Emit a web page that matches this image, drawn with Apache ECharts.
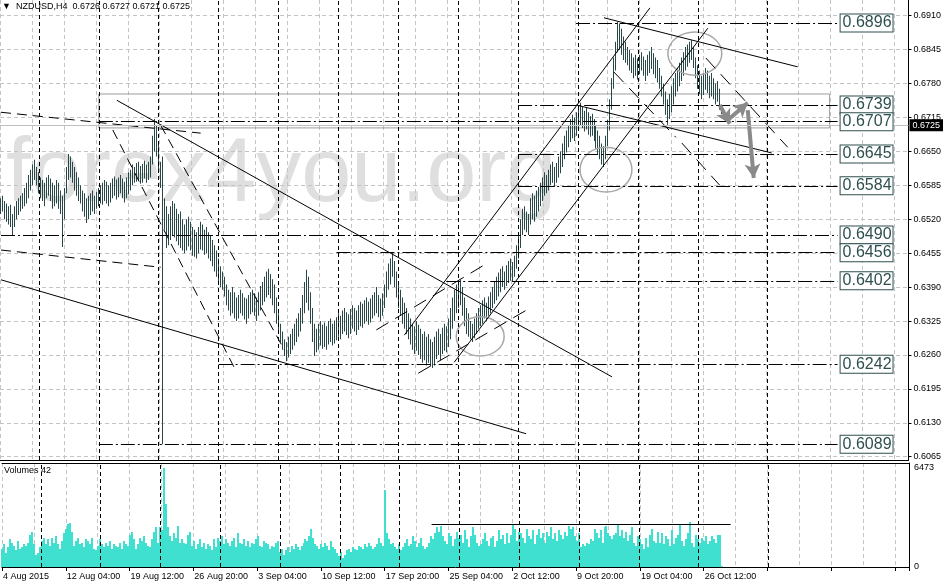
<!DOCTYPE html>
<html lang="en">
<head>
<meta charset="UTF-8">
<title>NZDUSD H4</title>
<style>
  html, body { margin: 0; padding: 0; background: #fff; }
  #chart { width: 944px; height: 583px; }
</style>
</head>
<body>
<div id="chart"></div>
<script src="https://cdn.jsdelivr.net/npm/echarts@6.0.0/dist/echarts.min.js"></script>
<script>
// H4 bars, high / low in pips (0.0001)
const highs = [
  6560,6565,6555,6550,6545,6548,6530,6545,6555,6560, 6565,6570,6580,6590,6605,6615,6625,6634,6620,6610,
  6600,6595,6590,6600,6605,6598,6590,6585,6595,6590, 6575,6565,6580,6620,6645,6640,6630,6620,6610,6600,
  6585,6575,6570,6560,6565,6570,6575,6565,6572,6580, 6585,6590,6595,6592,6585,6590,6598,6602,6596,6600,
  6605,6598,6592,6600,6610,6615,6625,6620,6628,6630, 6622,6626,6632,6625,6630,6640,6680,6712,6700,6665,
  6630,6640,6560,6545,6530,6545,6555,6550,6540,6530, 6535,6520,6510,6520,6525,6515,6505,6500,6495,6505,
  6515,6510,6500,6505,6495,6490,6480,6470,6460,6445, 6430,6420,6410,6395,6385,6380,6390,6380,6370,6375,
  6385,6378,6370,6368,6375,6380,6385,6378,6370,6380, 6392,6400,6410,6420,6425,6415,6405,6395,6370,6340,
  6320,6305,6290,6285,6295,6300,6310,6320,6330,6340, 6350,6375,6400,6423,6410,6380,6350,6320,6310,6320,
  6325,6318,6322,6315,6325,6330,6320,6326,6332,6340, 6335,6345,6350,6342,6338,6348,6355,6350,6345,6355,
  6362,6358,6365,6370,6362,6368,6375,6380,6390,6375, 6368,6378,6395,6420,6435,6445,6457,6440,6420,6400,
  6385,6370,6360,6350,6340,6330,6320,6315,6325,6318, 6310,6300,6305,6295,6300,6290,6285,6295,6305,6310,
  6300,6312,6320,6315,6330,6350,6370,6385,6395,6400, 6404,6390,6370,6350,6340,6325,6320,6330,6340,6350,
  6355,6365,6370,6360,6372,6380,6390,6400,6410,6418, 6425,6430,6420,6432,6440,6445,6438,6450,6470,6495,
  6520,6540,6545,6535,6530,6560,6570,6565,6575,6582, 6590,6600,6610,6605,6615,6625,6630,6620,6628,6640,
  6650,6665,6680,6690,6700,6712,6720,6715,6725,6732, 6743,6735,6728,6735,6725,6718,6722,6712,6700,6690,
  6680,6665,6660,6680,6710,6750,6790,6830,6860,6898, 6895,6885,6870,6860,6850,6845,6838,6830,6835,6828,
  6835,6840,6832,6825,6835,6842,6850,6838,6830,6825, 6810,6795,6780,6765,6750,6760,6775,6790,6800,6810,
  6820,6830,6840,6850,6855,6860,6863,6850,6830,6815, 6805,6795,6800,6810,6805,6795,6800,6790,6780,6785,
  6770,6727
];
const lows = [
  6530,6535,6520,6515,6510,6505,6490,6505,6520,6528, 6535,6540,6545,6550,6560,6575,6585,6595,6585,6570,
  6560,6555,6545,6560,6565,6555,6540,6545,6550,6540, 6530,6467,6520,6570,6595,6600,6590,6575,6565,6555,
  6550,6535,6525,6513,6520,6528,6535,6530,6540,6545, 6550,6548,6555,6550,6545,6552,6560,6565,6558,6562,
  6570,6560,6552,6560,6568,6575,6585,6590,6592,6595, 6588,6590,6598,6590,6595,6600,6625,6650,6640,6610,
  6580,6089,6500,6465,6470,6480,6490,6485,6478,6470, 6465,6460,6455,6460,6468,6460,6450,6448,6445,6455,
  6462,6460,6452,6455,6445,6440,6430,6420,6410,6400, 6390,6385,6372,6355,6345,6335,6340,6330,6325,6330,
  6340,6335,6328,6320,6330,6338,6342,6335,6325,6335, 6345,6355,6362,6370,6375,6368,6355,6340,6320,6300,
  6285,6270,6258,6248,6255,6262,6270,6278,6285,6295, 6305,6320,6340,6360,6345,6320,6285,6258,6265,6270,
  6278,6272,6275,6270,6280,6285,6278,6282,6288,6295, 6290,6300,6305,6298,6292,6300,6310,6305,6298,6308,
  6315,6312,6320,6325,6318,6322,6330,6335,6340,6332, 6325,6335,6350,6370,6385,6395,6410,6390,6370,6350,
  6335,6320,6310,6300,6290,6280,6270,6262,6268,6260, 6252,6245,6250,6240,6245,6238,6235,6240,6252,6260,
  6250,6262,6268,6265,6275,6290,6310,6325,6340,6350, 6355,6335,6315,6300,6295,6290,6285,6292,6300,6310,
  6315,6320,6330,6325,6335,6340,6350,6358,6365,6372, 6380,6390,6385,6392,6398,6402,6400,6410,6425,6445,
  6465,6490,6500,6495,6490,6510,6520,6515,6525,6535, 6545,6555,6565,6570,6575,6585,6590,6582,6590,6600,
  6608,6620,6635,6648,6658,6668,6675,6670,6680,6690, 6700,6695,6688,6692,6682,6678,6680,6670,6655,6645,
  6635,6625,6620,6635,6660,6690,6730,6770,6805,6840, 6845,6835,6825,6820,6815,6805,6800,6790,6795,6788,
  6798,6805,6795,6785,6795,6800,6808,6798,6790,6782, 6770,6755,6740,6720,6701,6712,6725,6740,6755,6765,
  6775,6785,6795,6805,6812,6820,6825,6810,6790,6770, 6760,6750,6758,6768,6762,6752,6755,6750,6740,6745,
  6730,6721
];
const volumes = [
  1200,1500,900,1300,1800,1600,1400,1100,1700,1200, 1300,1500,1400,1600,2100,2300,1500,800,900,1300,
  1700,1900,1500,1800,1400,1900,1600,2000,1500,1200, 1700,2200,2500,2800,2900,2300,1400,1700,1900,1500,
  1600,1300,1800,1700,1500,1900,1200,1100,1400,1800, 1500,1300,1600,1400,1700,1200,1500,1400,1300,1600,
  1200,1700,1500,1400,2100,2300,1800,1200,1500,1900, 1700,2000,1600,1400,1300,1800,2300,2600,1600,2600,
  2400,6473,4150,2600,2000,1700,2200,1900,2700,1600, 1800,1600,1500,2100,2300,1400,1700,1200,1500,1800,
  1300,1600,1200,1500,1400,1100,1800,1300,1900,1700, 2000,1500,1800,1600,1400,1700,1900,1300,2200,1600,
  1500,1800,1400,1700,1300,1600,1500,1800,2000,1400, 1300,1700,1600,1500,1200,1400,1300,1600,1700,1000,
  1200,800,1100,1300,1000,1400,1200,1500,1300,1100, 1400,1600,1800,1700,2000,2500,1900,1500,1400,1200,
  1500,1300,1600,1400,1100,1700,1300,1200,900,700, 1000,600,800,1100,1200,1000,1300,1200,1100,1400,
  1300,1200,1500,1300,1600,1400,1200,1300,1500,1900, 1600,1400,5030,2200,1800,1500,1600,1300,1200,1500,
  1100,1300,1600,1800,1400,1500,2000,1700,1300,1600, 1900,1400,1200,1300,1600,2000,1800,2200,2600,2300,
  2700,2000,1700,1500,2200,2000,1400,1800,2300,1900, 2100,1600,2400,1800,1300,2000,2600,2100,1600,1400,
  1500,1800,2200,1700,1400,1900,2000,1300,1700,2400, 1800,2100,1500,2200,1600,2100,2800,2500,1700,2300,
  2200,1900,1600,2500,2000,1800,2400,1500,2100,2500, 1900,2200,1600,2300,2000,2600,1800,2200,1700,2400,
  2100,1800,2300,2000,2700,2500,2600,2000,1700,2200, 1300,1500,1400,1600,1500,1800,1700,2500,2200,1900,
  2400,1600,2600,2700,2200,2000,1800,2100,2200,2750, 2000,2400,1900,2300,1700,2100,2600,1600,1400,2000,
  1800,1500,1200,1900,1300,2100,2500,1700,1600,2300, 1600,2200,1500,2000,1800,1400,2400,1500,1900,2100,
  2800,1700,1400,1800,2200,2950,1600,1300,2100,1800, 1600,1900,1700,2000,1500,1700,2000,1800,1600,2100,
  2100,42
];
const lastBar = [0.6726, 0.6727, 0.6721, 0.6725]; // O H L C
const priceTicks = [0.6065, 0.6130, 0.6195, 0.6260, 0.6325, 0.6390, 0.6455, 0.6520, 0.6585, 0.6650, 0.6715, 0.6780, 0.6845, 0.6910];
const volumeTicks = [0, 6473];
const timeLabels = ['4 Aug 2015', '12 Aug 04:00', '19 Aug 12:00', '26 Aug 20:00', '3 Sep 04:00', '10 Sep 12:00',
  '17 Sep 20:00', '25 Sep 04:00', '2 Oct 12:00', '9 Oct 20:00', '19 Oct 04:00', '26 Oct 12:00'];

// drawn objects (bar index, price)
const levelPrices = [0.6896, 0.6739, 0.6707, 0.6645, 0.6584, 0.6490, 0.6456, 0.6402, 0.6242, 0.6089];
const levelFromBar = [288, 259, 49, 259, 259, 0, 168, 223, 109, 49];
const levelToBar = 419;
const weekBars = [19, 49, 79, 109, 139, 169, 199, 229, 259, 289, 319, 349, 384];
const solidLines = [
  [58, 0.6748, 306, 0.6218], [0, 0.6404, 263, 0.6109], [202, 0.6298, 325, 0.6925],
  [227, 0.6246, 354, 0.6886], [302, 0.6906, 399, 0.6812], [288, 0.6739, 386, 0.6647]
];
const longDashLines = [
  [0, 0.6725, 100, 0.6685], [0, 0.6461, 80, 0.6428], [56, 0.6691, 118, 0.6227], [80, 0.6700, 142, 0.6269]
];
const shortDashLines = [
  [188, 0.6308, 244, 0.6437], [209, 0.6225, 265, 0.6350], [307, 0.6802, 338, 0.6677],
  [353, 0.6829, 394, 0.6658], [341, 0.6666, 360, 0.6585]
];
const arrows = [[360, 0.6739, 365, 0.6703], [364, 0.6710, 374, 0.6743], [374, 0.6729, 377, 0.6599]];
const ellipses = [[228, 0.6333, 252, 0.6258], [290, 0.6658, 316, 0.6572], [334, 0.6879, 361, 0.6796]];
const zone = [49, 0.6760, 415, 0.6695];
const volumeLine = [215, 2775, 365, 2775];

const slotCount = 455;
const slots = [];
for (let i = 0; i < slotCount; i++) slots.push(i);

const barColor = '#284848';
const gridStyle = { color: '#c4c4c4', type: [4, 3], width: 1 };
const sepStyle = { color: '#000', type: [4, 3], width: 1 };

function seg(l, style) {
  return [{ coord: [l[0], l[1]], lineStyle: style }, { coord: [l[2], l[3]] }];
}

const mainMarks = [];
weekBars.forEach(b => mainMarks.push({ xAxis: b, lineStyle: sepStyle }));
solidLines.forEach(l => mainMarks.push(seg(l, { color: '#000', type: 'solid', width: 1 })));
longDashLines.forEach(l => mainMarks.push(seg(l, { color: '#000', type: [10, 6], width: 1 })));
shortDashLines.forEach(l => mainMarks.push(seg(l, { color: '#000', type: [14, 8], width: 1 })));
levelPrices.forEach((p, k) => {
  mainMarks.push([{
    coord: [levelFromBar[k], p],
    lineStyle: { color: '#000', type: [14, 3, 2, 3], width: 1 },
    label: {
      show: true, position: 'end', distance: 3, formatter: p.toFixed(4),
      fontSize: 16, fontFamily: 'Liberation Sans', color: '#2F4F4F',
      backgroundColor: '#fff', borderColor: '#2F4F4F', borderWidth: 1, padding: [1, 1, 0, 2]
    }
  }, { coord: [levelToBar, p] }]);
});
arrows.forEach(l => mainMarks.push([
  { coord: [l[0], l[1]], symbol: 'none', lineStyle: { color: '#8a8a8a', type: 'solid', width: 4 } },
  { coord: [l[2], l[3]], symbol: 'arrow', symbolSize: [12, 14] }
]));
mainMarks.push({
  yAxis: lastBar[3], lineStyle: { color: '#c0c0c0', type: 'solid', width: 1 },
  label: {
    show: true, position: 'end', distance: 1, formatter: lastBar[3].toFixed(4),
    backgroundColor: '#000', color: '#fff', fontSize: 9, padding: [2, 3, 1, 3]
  }
});

const volMarks = weekBars.map(b => ({ xAxis: b, lineStyle: sepStyle }));
volMarks.push(seg(volumeLine, { color: '#000', type: 'solid', width: 1 }));

const option = {
  animation: false,
  backgroundColor: '#fff',
  textStyle: { fontFamily: 'Liberation Sans' },
  title: [
    {
      text: '\u25BC  NZDUSD,H4  ' + lastBar.map(v => v.toFixed(4)).join(' '),
      left: 2, top: 2, padding: 0,
      textStyle: { fontSize: 9, fontWeight: 'normal', color: '#000' }
    },
    {
      text: 'Volumes ' + volumes[volumes.length - 1],
      left: 4, top: 466, padding: 0,
      textStyle: { fontSize: 9, fontWeight: 'normal', color: '#000' }
    }
  ],
  graphic: [{
    type: 'text', left: 6, top: 131, z: 0,
    style: { text: 'forex4you.org', fill: '#dfdfdf', font: '90px "Liberation Sans"' }
  }],
  grid: [
    { left: 0, right: 35, top: 0, height: 460 },
    { left: 0, right: 35, top: 463, height: 104 }
  ],
  xAxis: [
    {
      gridIndex: 0, type: 'category', data: slots, boundaryGap: true,
      axisLine: { show: true, onZero: false, lineStyle: { color: '#000' } },
      axisTick: { show: false }, axisLabel: { show: false },
      splitLine: { show: true, interval: 15, lineStyle: gridStyle }
    },
    {
      gridIndex: 1, type: 'category', data: slots, boundaryGap: true,
      axisLine: { show: true, onZero: false, lineStyle: { color: '#000' } },
      axisTick: { show: true, interval: 31, length: 4, lineStyle: { color: '#000' } },
      axisLabel: {
        interval: 31, align: 'left', margin: 5, fontSize: 9, color: '#000',
        formatter: (v, i) => timeLabels[i / 32] || ''
      },
      splitLine: { show: true, interval: 15, lineStyle: gridStyle }
    },
    {
      gridIndex: 1, type: 'category', data: slots, position: 'top',
      axisLine: { show: true, onZero: false, lineStyle: { color: '#000' } },
      axisTick: { show: false }, axisLabel: { show: false }, splitLine: { show: false }
    }
  ],
  yAxis: [
    {
      gridIndex: 0, type: 'value', position: 'right', min: 0.60587, max: 0.69401,
      axisLine: { show: true, lineStyle: { color: '#000' } },
      axisTick: { show: true, length: 3, customValues: priceTicks, lineStyle: { color: '#000' } },
      axisLabel: { customValues: priceTicks, margin: 5, fontSize: 9, color: '#000', formatter: v => v.toFixed(4) },
      splitLine: { show: true, lineStyle: gridStyle }
    },
    {
      gridIndex: 1, type: 'value', position: 'right', min: 0, max: 6800,
      axisLine: { show: true, lineStyle: { color: '#000' } },
      axisTick: { show: false },
      axisLabel: { customValues: volumeTicks, margin: 5, fontSize: 9, color: '#000', formatter: v => String(v) },
      splitLine: { show: false }
    }
  ],
  series: [
    {
      name: 'NZDUSD', type: 'custom', xAxisIndex: 0, yAxisIndex: 0, z: 3,
      data: highs.map((h, i) => [i, lows[i] / 10000, h / 10000]),
      encode: { x: 0, y: [1, 2] },
      renderItem: function (params, api) {
        const x = api.value(0);
        const lo = api.coord([x, api.value(1)]);
        const hi = api.coord([x, api.value(2)]);
        return {
          type: 'rect',
          shape: { x: Math.floor(lo[0]), y: hi[1], width: 1, height: Math.max(1, lo[1] - hi[1]) },
          style: { fill: barColor }
        };
      },
      markLine: { silent: true, symbol: ['none', 'none'], label: { show: false }, data: mainMarks },
      markArea: {
        silent: true,
        itemStyle: { color: 'rgba(0,0,0,0)', borderColor: '#9c9c9c', borderWidth: 1 },
        data: [[{ coord: [zone[0], zone[1]] }, { coord: [zone[2], zone[3]] }]]
      }
    },
    {
      name: 'marks', type: 'custom', xAxisIndex: 0, yAxisIndex: 0, z: 4, silent: true,
      data: ellipses,
      encode: { x: [0, 2], y: [1, 3] },
      renderItem: function (params, api) {
        const a = api.coord([api.value(0), api.value(1)]);
        const b = api.coord([api.value(2), api.value(3)]);
        return {
          type: 'ellipse',
          shape: { cx: (a[0] + b[0]) / 2, cy: (a[1] + b[1]) / 2, rx: Math.abs(b[0] - a[0]) / 2, ry: Math.abs(b[1] - a[1]) / 2 },
          style: { fill: 'none', stroke: '#a8a8a8', lineWidth: 1.5 }
        };
      }
    },
    {
      name: 'Volumes', type: 'custom', xAxisIndex: 1, yAxisIndex: 1, z: 2,
      data: volumes.map((v, i) => [i, v]),
      encode: { x: 0, y: 1 },
      renderItem: function (params, api) {
        const top = api.coord([api.value(0), api.value(1)]);
        const base = api.coord([api.value(0), 0]);
        const left = Math.floor(top[0]) - 1;
        return {
          type: 'rect',
          shape: { x: left, y: Math.round(top[1]), width: 2, height: Math.round(base[1]) - Math.round(top[1]) },
          style: { fill: '#40E0D0' }
        };
      },
      markLine: { silent: true, symbol: ['none', 'none'], label: { show: false }, data: volMarks }
    }
  ]
};

const myChart = echarts.init(document.getElementById('chart'));
myChart.setOption(option);
window.onresize = function () {
  myChart.resize();
};
</script>
</body>
</html>
